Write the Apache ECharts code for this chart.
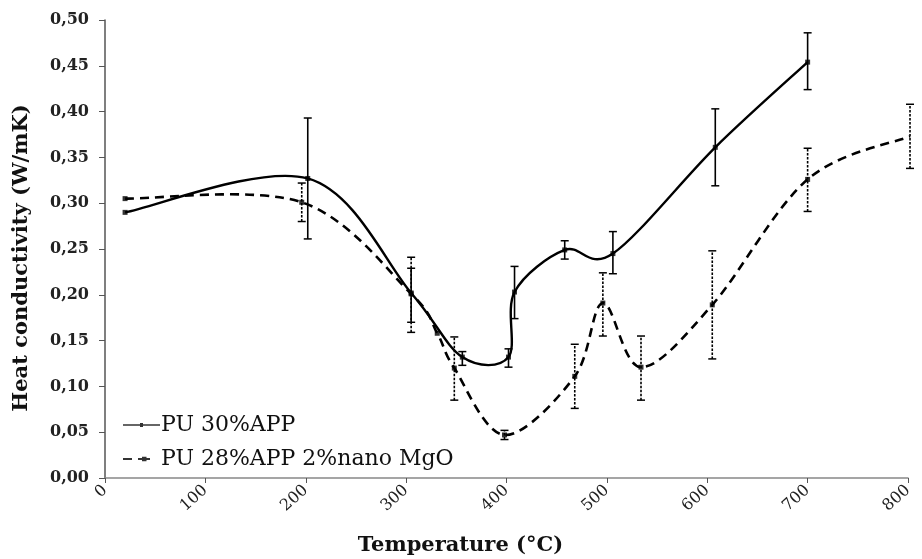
<!DOCTYPE html>
<html>
<head>
<meta charset="utf-8">
<script src="https://cdn.jsdelivr.net/npm/echarts@6/dist/echarts.min.js"></script>
<style>html,body{margin:0;padding:0;background:#fff;}#c{width:922px;height:559px;}</style>
</head>
<body>
<div id="c"></div>
<script>
// Series 1: PU 30%APP
const tempA = [20, 202, 305, 356, 402, 408, 458, 506, 608, 700];
const valA  = [0.290, 0.327, 0.202, 0.132, 0.132, 0.203, 0.249, 0.245, 0.361, 0.454];
const lowA  = [null, 0.261, 0.170, 0.123, 0.121, 0.174, 0.239, 0.223, 0.319, 0.424];
const highA = [null, 0.393, 0.229, 0.138, 0.141, 0.231, 0.259, 0.269, 0.403, 0.486];
// Series 2: PU 28%APP 2%nano MgO
const tempB = [20, 196, 305, 331, 348, 398, 468, 496, 534, 605, 700, 802];
const valB  = [0.305, 0.301, 0.201, 0.158, 0.120, 0.047, 0.111, 0.191, 0.121, 0.189, 0.326, 0.373];
const lowB  = [null, 0.280, 0.159, null, 0.085, 0.042, 0.076, 0.155, 0.085, 0.130, 0.291, 0.338];
const highB = [null, 0.322, 0.241, null, 0.154, 0.052, 0.146, 0.224, 0.155, 0.248, 0.360, 0.408];
const nameA = 'PU 30%APP';
const nameB = 'PU 28%APP 2%nano MgO';
const xTitle = 'Temperature (°C)';
const yTitle = 'Heat conductivity (W/mK)';

const serif = '"DejaVu Serif", "Liberation Serif", serif';

function errData(t, lo, hi) {
  const out = [];
  for (let i = 0; i < t.length; i++) {
    if (lo[i] != null && hi[i] != null) out.push([t[i], lo[i], hi[i]]);
  }
  return out;
}
function errRender(dashed) {
  return function (params, api) {
    const p1 = api.coord([api.value(0), api.value(1)]);
    const p2 = api.coord([api.value(0), api.value(2)]);
    const w = 4;
    return {
      type: 'group',
      children: [
        { type: 'line', shape: { x1: p1[0], y1: p1[1], x2: p2[0], y2: p2[1] },
          style: { stroke: '#000', lineWidth: 1.6, lineDash: dashed ? [2.5, 1.5] : null } },
        { type: 'line', shape: { x1: p1[0] - w, y1: p1[1], x2: p1[0] + w, y2: p1[1] }, style: { stroke: '#000', lineWidth: 1.5 } },
        { type: 'line', shape: { x1: p2[0] - w, y1: p2[1], x2: p2[0] + w, y2: p2[1] }, style: { stroke: '#000', lineWidth: 1.5 } }
      ]
    };
  };
}
// smoothed curve (Catmull-Rom style bezier) through the data points, in pixel space via api.coord
function curveRender(t, v, dash, width) {
  return function (params, api) {
    if (params.dataIndex !== 0) return null;
    const P = t.map((x, i) => api.coord([x, v[i]]));
    const n = P.length;
    let d = 'M' + P[0][0] + ',' + P[0][1];
    for (let i = 0; i < n - 1; i++) {
      const p0 = P[Math.max(0, i - 1)], p1 = P[i], p2 = P[i + 1], p3 = P[Math.min(n - 1, i + 2)];
      const c1x = p1[0] + (p2[0] - p0[0]) / 6, c1y = p1[1] + (p2[1] - p0[1]) / 6;
      const c2x = p2[0] - (p3[0] - p1[0]) / 6, c2y = p2[1] - (p3[1] - p1[1]) / 6;
      d += ' C' + c1x + ',' + c1y + ' ' + c2x + ',' + c2y + ' ' + p2[0] + ',' + p2[1];
    }
    return {
      type: 'path',
      shape: { pathData: d },
      style: { fill: null, stroke: '#000', lineWidth: width, lineDash: dash, lineCap: 'butt' }
    };
  };
}

const iconSolid = 'path://M0,2.2h37v1.6h-37z M17,1h3v4h-3z';
const iconDash = 'path://M0,2h9v2h-9z M15,2h12v2h-12z M19,0.8h4.5v4.4h-4.5z M36.9,2.9h0.1v0.1h-0.1z';

const chart = echarts.init(document.getElementById('c'), null, { renderer: 'canvas' });
chart.setOption({
  animation: false,
  backgroundColor: '#fff',
  grid: { left: 105, right: 14, top: 20, bottom: 81, outerBoundsMode: 'none', containLabel: false },
  legend: {
    data: [
      { name: nameA, icon: iconSolid },
      { name: nameB, icon: iconDash }
    ],
    orient: 'vertical',
    left: 118,
    top: 409,
    itemWidth: 37,
    itemHeight: 6,
    itemGap: 12,
    textStyle: { fontFamily: serif, fontSize: 22, color: '#111', padding: [0, 0, 0, -4] }
  },
  xAxis: {
    type: 'value',
    min: 0, max: 800, interval: 100,
    name: xTitle,
    nameLocation: 'middle',
    nameGap: 57,
    nameTextStyle: { fontFamily: serif, fontWeight: 'bold', fontSize: 21, color: '#111', padding: [0, 92, 0, 0] },
    axisLine: { lineStyle: { color: '#888', width: 1.5 } },
    axisTick: { show: true, length: 5, lineStyle: { color: '#555' } },
    axisLabel: { rotate: 42, fontFamily: serif, fontSize: 16, color: '#222', margin: 10 },
    splitLine: { show: false }
  },
  yAxis: {
    type: 'value',
    min: 0, max: 0.5, interval: 0.05,
    name: yTitle,
    nameLocation: 'middle',
    nameGap: 73,
    nameTextStyle: { fontFamily: serif, fontWeight: 'bold', fontSize: 21, color: '#111', padding: [0, 18, 0, 0] },
    axisLine: { show: true, lineStyle: { color: '#555', width: 1.5 } },
    axisTick: { show: true, length: 6, lineStyle: { color: '#555' } },
    axisLabel: {
      fontFamily: serif, fontWeight: 'bold', fontSize: 16, color: '#222', margin: 16,
      formatter: v => v.toFixed(2).replace('.', ',')
    },
    splitLine: { show: false }
  },
  series: [
    {
      type: 'custom',
      renderItem: curveRender(tempA, valA, null, 2.4),
      data: tempA.map((t, i) => [t, valA[i]]),
      encode: { x: 0, y: 1 },
      z: 3, silent: true
    },
    {
      type: 'custom',
      renderItem: curveRender(tempB, valB, [9, 6], 2.6),
      data: tempB.map((t, i) => [t, valB[i]]),
      encode: { x: 0, y: 1 },
      z: 3, silent: true
    },
    {
      name: nameA,
      type: 'scatter',
      data: tempA.map((t, i) => [t, valA[i]]),
      symbol: 'rect',
      symbolSize: 5,
      itemStyle: { color: '#000' },
      z: 4
    },
    {
      name: nameB,
      type: 'scatter',
      data: tempB.map((t, i) => [t, valB[i]]),
      symbol: 'rect',
      symbolSize: 5,
      itemStyle: { color: '#000' },
      z: 4
    },
    {
      type: 'custom',
      renderItem: errRender(false),
      data: errData(tempA, lowA, highA),
      encode: { x: 0, y: [1, 2] },
      z: 2, silent: true
    },
    {
      type: 'custom',
      renderItem: errRender(true),
      data: errData(tempB, lowB, highB),
      encode: { x: 0, y: [1, 2] },
      z: 2, silent: true
    }
  ]
});
</script>
</body>
</html>
